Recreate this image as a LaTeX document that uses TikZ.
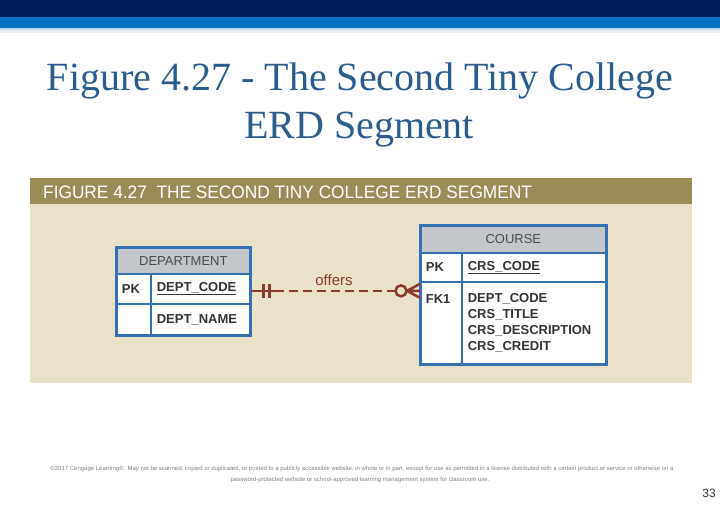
\documentclass[tikz,border=0pt]{standalone}
\usepackage{fontspec}
\setmainfont{Liberation Sans}
\newfontfamily\titlefont{Liberation Serif}
\newfontfamily\bandfont[FakeStretch=0.96]{Liberation Sans}
\usepackage{xcolor}
\usetikzlibrary{positioning,calc}

\definecolor{navy}{HTML}{001F5F}
\definecolor{barblue}{HTML}{0070C0}
\definecolor{barlight}{HTML}{BDD7EE}
\definecolor{bargray}{HTML}{ECECEC}
\definecolor{titleblue}{HTML}{2C5C8E}
\definecolor{band}{HTML}{9A8C56}
\definecolor{beige}{HTML}{EAE1C9}
\definecolor{tblblue}{HTML}{3470B2}
\definecolor{headgray}{HTML}{C3C7CB}
\definecolor{headtext}{HTML}{4A4A4A}
\definecolor{fieldgray}{HTML}{333333}
\definecolor{relred}{HTML}{8C3A2E}

\begin{document}
\begin{tikzpicture}[x=1pt,y=-1pt,
  cell/.style={draw=tblblue,line width=1.7pt,anchor=north west,inner ysep=0pt,
    font=\fontsize{13}{16}\selectfont\bfseries,text=fieldgray},
  headcell/.style={cell,fill=headgray,inner xsep=0pt,font=\fontsize{13}{16}\selectfont,text=headtext},
  keycell/.style={cell,fill=white,text width=24pt,align=left,inner xsep=5pt},
  fieldcell/.style={cell,fill=white,align=left,inner xsep=6pt},
  tblframe/.style={draw=tblblue,line width=2.4pt},
  rel/.style={line width=2.5pt,relred}]
  \useasboundingbox (0,0) rectangle (720,504);
  % slide bars
  \fill[navy] (0,0) rectangle (720,17);
  \fill[barblue] (0,17) rectangle (720,28);
  \fill[barlight] (0,28) rectangle (720,30);
  \fill[bargray] (0,30) rectangle (720,33);
  \node[anchor=base,font=\titlefont\fontsize{40}{48}\selectfont,text=titleblue] (title1) at (360,90) {Figure 4.27 - The Second Tiny College};
  \node[anchor=base,font=\titlefont\fontsize{40}{48}\selectfont,text=titleblue] (title2) at (359,138) {ERD Segment};
  % figure panel
  \fill[band] (30,178) rectangle (692,204);
  \fill[beige] (30,204) rectangle (692,383);
  \node[anchor=base west,font=\bandfont\fontsize{18}{20}\selectfont,text=white,inner sep=0pt] (bandtxt) at (43,198) {FIGURE 4.27\ \ THE SECOND TINY COLLEGE ERD SEGMENT};
  % DEPARTMENT entity
  \node[headcell,minimum width=133pt,minimum height=26pt] (dephd) at (116,247) {DEPARTMENT};
  \node[keycell,minimum height=30pt] (deppk) at (116,273) {PK};
  \node[fieldcell,text width=87pt,minimum height=30pt] (depcode) at (150,273) {\underline{DEPT\_CODE}};
  \node[keycell,minimum height=31pt] (depkey) at (116,303) {};
  \node[fieldcell,text width=87pt,minimum height=31pt] (depname) at (150,303) {DEPT\_NAME};
  \draw[tblframe] (dephd.north west) rectangle (depname.south east);
  % COURSE entity
  \node[headcell,minimum width=185pt,minimum height=27pt] (crshd) at (420,225) {COURSE};
  \node[keycell,text width=31pt,minimum height=29pt] (crspk) at (420,252) {PK};
  \node[fieldcell,text width=132pt,minimum height=29pt] (crscode) at (461,252) {\underline{CRS\_CODE}};
  \node[keycell,text width=31pt,minimum height=82pt] (crsfk) at (420,281) {FK1\\\mbox{}\\\mbox{}\\\mbox{}};
  \node[fieldcell,text width=132pt,minimum height=82pt] (crsattr) at (461,281) {DEPT\_CODE\\CRS\_TITLE\\CRS\_DESCRIPTION\\CRS\_CREDIT};
  \draw[tblframe] (crshd.north west) rectangle (crsattr.south east);
  % offers relationship
  \coordinate (crsin) at ($(crsfk.west |- depcode.east)+(0,2)$);
  \coordinate (depout) at ($(depcode.east)+(0,2)$);
  \draw[rel] (depout) -- ++(24,0) coordinate (dashbeg);
  \draw[rel,dash pattern=on 9pt off 5pt] (dashbeg) -- ($(crsin)+(-25,0)$);
  \draw[rel] ($(depout)+(13,-7)$) -- ++(0,14) ($(depout)+(19,-7)$) -- ++(0,14);
  \draw[rel,fill=beige] ($(crsin)+(-19,0)$) circle (5.5pt);
  \draw[rel] ($(crsin)+(-13,0)$) -- (crsin)
    ($(crsin)+(-13,0)$) -- ($(crsin)+(0,-7)$)
    ($(crsin)+(-13,0)$) -- ($(crsin)+(0,7)$);
  \node[font=\fontsize{15}{18}\selectfont,text=relred] (offers) at (334,280) {offers};
  % footer
  \node[anchor=base,font=\fontsize{6}{7}\selectfont,text=gray] (note1) at (362,470) {\textcopyright 2017 Cengage Learning\textregistered. May not be scanned, copied or duplicated, or posted to a publicly accessible website, in whole or in part, except for use as permitted in a license distributed with a certain product or service or otherwise on a};
  \node[anchor=base,font=\fontsize{6}{7}\selectfont,text=gray] (note2) at (360,481) {password-protected website or school-approved learning management system for classroom use.};
  \node[anchor=base east,font=\fontsize{12}{14}\selectfont,text=fieldgray,inner sep=0pt] (pageno) at (716,497) {33};
\end{tikzpicture}
\end{document}
